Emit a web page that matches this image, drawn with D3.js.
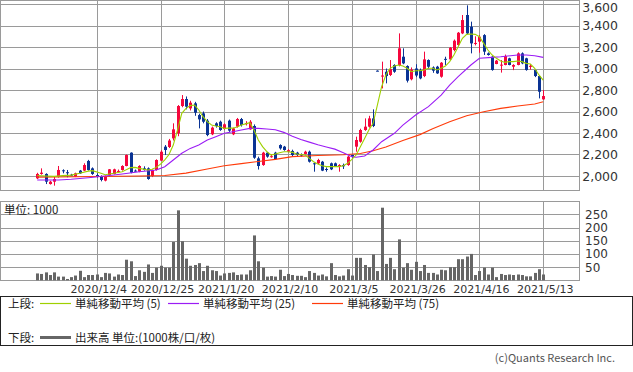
<!DOCTYPE html>
<html>
<head>
<meta charset="utf-8">
<script src="https://cdn.jsdelivr.net/npm/d3@7"></script>
<style>
  body { margin: 0; background: #fff; }
  svg { display: block; }
</style>
</head>
<body>
<div id="container"></div>
<script>
// price data, one entry per trading day (index 0 .. 119)
let opens = [1978,2019,2019,1925,1947,1994,2053,2035,2012,1994,2050,2050,2140,2071,2009,2000,1957,2009,2019,2043,
  2056,2093,2217,2050,2040,2071,2071,2000,2056,2143,2273,2270,2350,2397,2651,2716,2629,2676,2567,2583,
  2515,2388,2490,2505,2437,2515,2388,2459,2530,2488,2434,2465,2164,2102,2217,2178,2217,2288,2273,2226,
  2233,2217,2200,2205,2226,2118,2118,2133,2065,2118,2118,2093,2102,2102,2195,2273,2319,2428,2459,2536,
  2980,2925,2970,2940,3033,3033,3110,3023,2900,3000,2986,2930,3079,3010,3017,2924,3090,3085,3172,3219,
  3327,3498,3389,3230,3250,3311,3141,3110,3042,3030,3033,3095,3017,3033,3141,3095,3015,2986,2930,2713];
let highs = [2030,2071,2025,1955,2000,2093,2062,2056,2020,2031,2056,2118,2150,2080,2025,2006,2005,2065,2068,2060,
  2100,2200,2220,2060,2100,2090,2080,2060,2155,2240,2288,2345,2490,2660,2753,2740,2700,2690,2580,2600,
  2530,2460,2500,2515,2490,2525,2450,2540,2540,2510,2520,2480,2180,2225,2225,2200,2225,2295,2280,2250,
  2245,2225,2210,2235,2236,2125,2160,2140,2080,2125,2125,2110,2115,2190,2200,2366,2440,2536,2560,2620,
  2983,3064,3000,3079,3040,3327,3188,3030,3010,3040,3000,3157,3085,3020,3025,3060,3110,3200,3270,3340,
  3498,3588,3436,3300,3310,3320,3150,3115,3080,3079,3130,3100,3040,3150,3150,3100,3040,2995,2935,2800];
let lows = [1972,2012,1925,1920,1910,1985,2025,1988,2000,1990,2019,2045,2050,2010,1985,1950,1950,2005,2015,2035,
  2050,2090,2025,2040,2035,2050,1965,1990,2050,2140,2195,2260,2330,2370,2640,2620,2610,2560,2443,2490,
  2370,2380,2450,2420,2430,2410,2380,2450,2460,2470,2430,2160,2060,2095,2170,2170,2150,2245,2235,2220,
  2185,2185,2180,2200,2125,2040,2110,2045,2040,2055,2085,2040,2065,2095,2170,2226,2310,2420,2450,2455,
  2975,2815,2862,2930,2960,3020,3040,2870,2890,2920,2900,2920,3000,2960,2950,2915,3033,3080,3160,3210,
  3320,3320,3141,3215,3147,3126,3120,2980,3040,2962,3030,3030,2985,3030,3040,2980,2990,2920,2722,2710];
let closes = [2019,2031,1947,1947,1972,2056,2047,2028,2006,2025,2025,2102,2056,2019,1994,1963,2000,2062,2062,2047,
  2093,2195,2031,2047,2093,2056,1972,2056,2149,2226,2242,2330,2434,2651,2716,2645,2682,2589,2527,2505,
  2381,2450,2465,2428,2481,2422,2443,2530,2474,2492,2505,2170,2093,2217,2180,2184,2158,2257,2242,2240,
  2195,2195,2190,2226,2133,2112,2149,2050,2060,2062,2093,2102,2090,2180,2180,2335,2428,2459,2536,2465,
  2977,2935,2930,2995,2970,3188,3048,2887,2990,2935,2908,3085,3017,2980,2955,3054,3085,3194,3259,3333,
  3451,3327,3234,3238,3296,3157,3126,2986,3073,3036,3116,3033,3033,3141,3048,2986,3025,2930,2784,2744];
// volume, in units of 1000
let volumes = [26,24,30,20,30,14,14,5,12,18,36,12,20,20,22,12,28,26,14,22,
  20,78,72,16,38,32,60,28,48,55,48,48,145,265,148,82,55,58,65,35,
  55,38,35,18,26,28,30,20,22,22,38,170,72,48,14,16,14,40,16,24,
  20,17,17,12,35,28,18,22,15,65,20,15,18,42,18,85,85,58,50,98,
  35,275,62,85,42,155,48,65,40,70,35,58,28,28,22,40,38,50,50,80,
  80,90,100,20,35,48,22,48,12,24,20,22,20,22,20,15,15,28,42,22];

// moving averages: [day index, value]
let ma5 = [[0,2005],[2,2000],[4,1996],[6,2003],[8,2008],[10,2025],[12,2045],[13,2050],[15,2025],[16,2012],[18,2025],
  [20,2040],[22,2078],[23,2080],[24,2071],[26,2056],[27,2062],[28,2080],[29,2110],[30,2150],[31,2200],[32,2288],
  [33,2428],[34,2583],[35,2629],[36,2655],[37,2660],[38,2614],[39,2552],[40,2505],[41,2474],[42,2465],[43,2459],
  [44,2443],[45,2445],[46,2445],[47,2455],[48,2474],[49,2485],[50,2496],[51,2428],[52,2335],[53,2273],[54,2226],
  [55,2195],[56,2205],[57,2217],[58,2226],[59,2226],[60,2220],[61,2205],[62,2200],[63,2195],[64,2164],[65,2133],
  [66,2112],[67,2096],[68,2087],[69,2087],[70,2087],[71,2087],[72,2096],[73,2118],[74,2155],[75,2195],[76,2273],
  [77,2350],[78,2428],[79,2490],[80,2660],[81,2831],[82,2940],[83,3002],[84,3023],[85,3033],[86,3023],[87,3002],
  [88,2970],[89,2980],[90,2980],[91,2986],[92,3002],[93,3002],[94,2986],[95,3002],[96,3023],[97,3064],[98,3126],
  [99,3203],[100,3281],[101,3318],[102,3321],[103,3318],[104,3296],[105,3234],[106,3172],[107,3126],[108,3095],
  [109,3070],[110,3057],[111,3064],[112,3064],[113,3070],[114,3064],[115,3048],[116,3042],[117,3002],[118,2940],[119,2893]];
let ma25 = [[0,1963],[5,1963],[8,1969],[12,1984],[16,2000],[20,2019],[24,2040],[28,2056],[30,2087],[32,2149],
  [34,2211],[36,2257],[38,2288],[40,2335],[42,2366],[44,2397],[46,2412],[48,2428],[50,2443],[52,2443],[54,2437],
  [56,2430],[58,2406],[60,2370],[62,2340],[64,2315],[66,2290],[68,2270],[70,2250],[72,2217],[74,2180],[75,2174],
  [77,2186],[79,2242],[81,2319],[84,2397],[86,2474],[89,2567],[92,2645],[95,2753],[97,2846],[99,2924],[102,3033],
  [104,3095],[107,3104],[109,3110],[113,3126],[115,3126],[117,3119],[119,3104]];
let ma75 = [[0,1988],[14,1995],[24,2000],[30,2005],[35,2027],[40,2065],[44,2095],[48,2115],[52,2135],[56,2155],
  [60,2180],[66,2190],[72,2198],[76,2210],[79,2235],[82,2270],[86,2330],[90,2385],[93,2440],[97,2505],[101,2561],
  [105,2598],[109,2629],[113,2651],[117,2670],[119,2690]];

let priceTicks = [2000,2200,2400,2600,2800,3000,3200,3400,3600];
let volTicks = [50,100,150,200,250];
let dateIdx = [14,29,44,59,74,89,104,119];
let dateLabels = ["2020/12/4","2020/12/25","2021/1/20","2021/2/10","2021/3/5","2021/3/26","2021/4/16","2021/5/13"];

let w = 633, h = 372;
let upColor = "#f5073c", downColor = "#0a3394";
let gridColor = "#9a9a9a";

let svg = d3.select("#container").append("svg")
    .attr("width", w)
    .attr("height", h)
    .style("font-family", "'DejaVu Sans', sans-serif");

let x = d3.scaleLinear().domain([0, 119]).range([37.2, 543.2]);
let yP = d3.scaleLinear().domain([1865, 3633]).range([190.5, 0.5]);
let yV = d3.scaleLinear().domain([0, 298.5]).range([280.3, 201.5]);

let crisp = v => Math.round(v) + 0.5;

// ---- price panel ----
let priceG = svg.append("g");
priceG.selectAll(".hgrid").data(priceTicks).enter()
  .append("line")
    .attr("x1", 0).attr("x2", 579.5)
    .attr("y1", d => crisp(yP(d))).attr("y2", d => crisp(yP(d)))
    .attr("stroke", gridColor);
priceG.selectAll(".vgrid").data(dateIdx).enter()
  .append("line")
    .attr("x1", d => crisp(x(d))).attr("x2", d => crisp(x(d)))
    .attr("y1", 0.5).attr("y2", 190.5)
    .attr("stroke", gridColor);
priceG.append("rect")
    .attr("x", 0.5).attr("y", 0.5).attr("width", 579).attr("height", 190)
    .attr("fill", "none").attr("stroke", gridColor);

// the top label sits against the edge, nudged down so it stays whole
priceG.selectAll(".plabel").data(priceTicks).enter()
  .append("text")
    .attr("x", 618).attr("y", d => Math.max(yP(d) + 4.8, 11.8))
    .attr("text-anchor", "end")
    .attr("font-size", 12.5)
    .attr("fill", "#333")
    .text(d => d3.format(",")(d));

let days = d3.range(opens.length);
let colorOf = i => closes[i] >= opens[i] ? upColor : downColor;

priceG.selectAll(".wick").data(days).enter()
  .append("line")
    .attr("x1", i => Math.round(x(i)) + 0.5).attr("x2", i => Math.round(x(i)) + 0.5)
    .attr("y1", i => yP(highs[i])).attr("y2", i => yP(lows[i]))
    .attr("stroke", colorOf);
priceG.selectAll(".body").data(days).enter()
  .append("rect")
    .attr("x", i => Math.round(x(i)) - 1)
    .attr("width", 3)
    .attr("y", i => yP(Math.max(opens[i], closes[i])))
    .attr("height", i => Math.max(1, Math.abs(yP(opens[i]) - yP(closes[i]))))
    .attr("fill", colorOf);

let maLine = d3.line().x(d => x(d[0])).y(d => yP(d[1]));
[[ma75, "#ff3b0a"], [ma25, "#9b1cf5"], [ma5, "#9fd000"]].forEach(function(m){
  priceG.append("path")
    .attr("d", maLine(m[0]))
    .attr("fill", "none")
    .attr("stroke", m[1])
    .attr("stroke-width", 1.1);
});

// ---- volume panel ----
let volG = svg.append("g");
volG.selectAll(".vhgrid").data(volTicks).enter()
  .append("line")
    .attr("x1", 0).attr("x2", 579.5)
    .attr("y1", d => crisp(yV(d))).attr("y2", d => crisp(yV(d)))
    .attr("stroke", gridColor);
volG.selectAll(".vvgrid").data(dateIdx).enter()
  .append("line")
    .attr("x1", d => crisp(x(d))).attr("x2", d => crisp(x(d)))
    .attr("y1", 201.5).attr("y2", 280.5)
    .attr("stroke", gridColor);
volG.append("rect")
    .attr("x", 0.5).attr("y", 201.5).attr("width", 579).attr("height", 79)
    .attr("fill", "none").attr("stroke", gridColor);

volG.selectAll(".bar").data(days).enter()
  .append("rect")
    .attr("x", i => Math.round(x(i)) - 1)
    .attr("width", 3)
    .attr("y", i => yV(volumes[i]))
    .attr("height", i => yV(0) - yV(volumes[i]))
    .attr("fill", "#666");

volG.selectAll(".vlabel").data(volTicks).enter()
  .append("text")
    .attr("x", 585).attr("y", d => yV(d) + 4.5)
    .attr("font-size", 12)
    .attr("fill", "#333")
    .text(d => d);

volG.append("text")
    .attr("x", 4).attr("y", 214)
    .attr("font-size", 11.5)
    .attr("fill", "#222")
    .style("font-family", "'Noto Sans CJK JP', sans-serif")
    .text("単位: 1000");

svg.selectAll(".dlabel").data(dateIdx).enter()
  .append("text")
    .attr("x", (d, i) => x(d) + 2).attr("y", 293)
    .attr("text-anchor", "middle")
    .attr("font-size", 11)
    .attr("fill", "#333")
    .text((d, i) => dateLabels[i]);

// ---- legend ----
let lg = svg.append("g").style("font-family", "'Noto Sans CJK JP', sans-serif").attr("font-size", 11.5).attr("fill", "#222");
lg.append("rect")
    .attr("x", 0.5).attr("y", 296.5).attr("width", 632).attr("height", 49)
    .attr("fill", "none").attr("stroke", "#222");
lg.append("text").attr("x", 8).attr("y", 308).text("上段:");
lg.append("text").attr("x", 8).attr("y", 342).text("下段:");
let items = [["単純移動平均 (5)", "#9fd000", 40], ["単純移動平均 (25)", "#9b1cf5", 168], ["単純移動平均 (75)", "#ff3b0a", 312]];
items.forEach(function(it){
  lg.append("line").attr("x1", it[2]).attr("x2", it[2] + 31).attr("y1", 303.5).attr("y2", 303.5)
    .attr("stroke", it[1]).attr("stroke-width", 1.2);
  lg.append("text").attr("x", it[2] + 35).attr("y", 308).text(it[0]);
});
lg.append("line").attr("x1", 40).attr("x2", 71).attr("y1", 337.5).attr("y2", 337.5)
  .attr("stroke", "#666").attr("stroke-width", 3);
lg.append("text").attr("x", 75).attr("y", 342).text("出来高 単位:(1000株/口/枚)");

svg.append("text")
    .attr("x", 615).attr("y", 362)
    .attr("text-anchor", "end")
    .attr("font-size", 11)
    .attr("fill", "#555")
    .style("font-family", "'Noto Sans CJK JP', sans-serif")
    .text("(c)Quants Research Inc.");
</script>
</body>
</html>
